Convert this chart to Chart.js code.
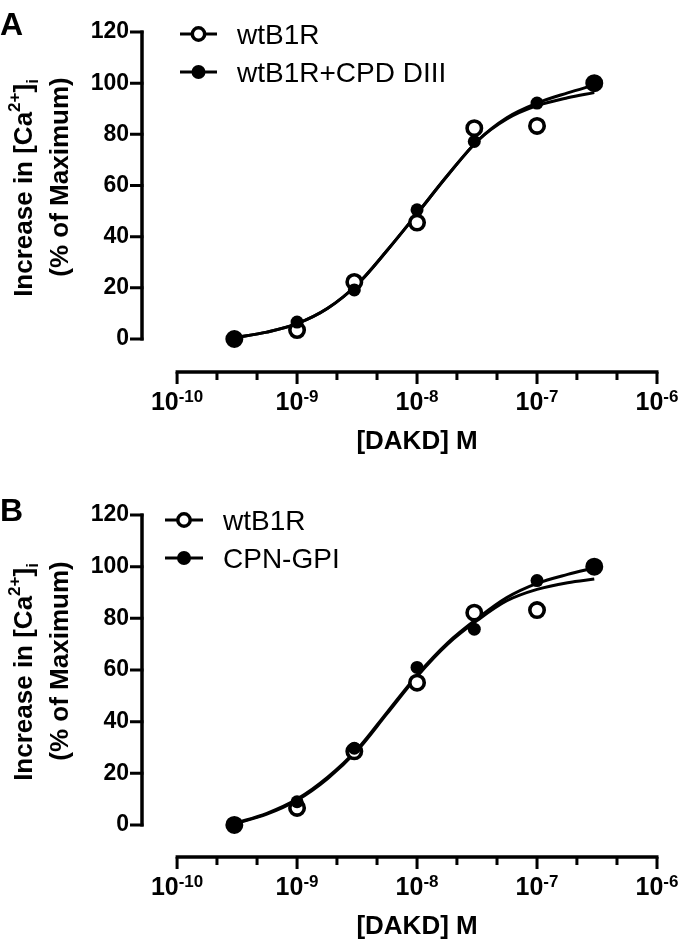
<!DOCTYPE html>
<html>
<head>
<meta charset="utf-8">
<script src="https://cdn.jsdelivr.net/npm/chart.js@4.4.1/dist/chart.umd.min.js"></script>
<style>
  body { margin: 0; background: #fff; width: 680px; height: 940px; overflow: hidden; }
  canvas { position: absolute; left: 0; }
  #chartA { top: 0; }
  #chartB { top: 486px; }
</style>
</head>
<body>
<canvas id="chartA" width="680" height="486"></canvas>
<canvas id="chartB" width="680" height="454"></canvas>
<script>
// measured points (% of max) at each DAKD concentration
const conc = [3e-10, 1e-9, 3e-9, 1e-8, 3e-8, 1e-7, 3e-7];
const wtA  = [0, 3.5, 22.3, 45.5, 82.4, 83.3, 100];
const cpdA = [0, 6.6, 19.2, 50.5, 77.2, 92.2, 100];
const wtB  = [0, 6.6, 28.5, 55.1, 82.2, 83.2, 100];
const gpiB = [0, 9.0, 29.7, 61.0, 75.8, 94.6, 100];

// fitted curves
const fitConc = [3e-10, 5.6e-10, 1e-9, 1.8e-9, 3.2e-9, 5.6e-9, 1e-8, 1.8e-8, 3.2e-8, 5.6e-8, 1e-7, 1.8e-7, 3e-7];
const wtFitA  = [0.5, 2.7, 6, 12, 21.5, 34.5, 49, 64, 77.5, 86, 91.2, 94.3, 96.3];
const cpdFitA = [0.5, 2.7, 6, 12, 21.5, 34.5, 49, 64, 77.5, 86.5, 92.2, 96.2, 99.3];
const wtFitB  = [0.4, 4.2, 9.6, 18, 29, 43, 57.5, 70, 79.3, 86.8, 91.2, 93.8, 95.2];
const gpiFitB = [0.6, 4.5, 10, 18.5, 29.5, 43.5, 58, 70.5, 80, 88, 93.5, 97, 99.5];

const namesA = ['wtB1R', 'wtB1R+CPD DIII'];
const namesB = ['wtB1R', 'CPN-GPI'];

const yTicks = [0, 20, 40, 60, 80, 100, 120];
const xMajor = [1e-10, 1e-9, 1e-8, 1e-7, 1e-6];
const xMajorExp = ['-10', '-9', '-8', '-7', '-6'];
const xMinor = [2.15e-10, 4.64e-10, 2.15e-9, 4.64e-9, 2.15e-8, 4.64e-8, 2.15e-7, 4.64e-7];

const FONT = '"Liberation Sans", Arial, sans-serif';

function pairs(xs, ys) {
    return xs.map((x, i) => ({ x: x, y: ys[i] }));
}

// axes, tick labels, titles and legend drawn Prism-style
function makeDecor(p) {
    return {
        id: 'decor' + p.letter,
        beforeDatasetsDraw(chart) {
            const ctx = chart.ctx;
            const xs = chart.scales.x, ys = chart.scales.y;
            const left = chart.chartArea.left;
            const axisY = chart.chartArea.bottom;
            ctx.save();
            ctx.strokeStyle = '#000';
            ctx.lineWidth = 3.5;

            // y axis
            const y0 = ys.getPixelForValue(yTicks[0]);
            const yTop = ys.getPixelForValue(yTicks[yTicks.length - 1]);
            ctx.beginPath();
            ctx.moveTo(left, y0 + 1.5);
            ctx.lineTo(left, yTop - 1.5);
            ctx.stroke();
            ctx.lineWidth = 3;
            ctx.beginPath();
            yTicks.forEach(v => {
                const py = ys.getPixelForValue(v);
                ctx.moveTo(left - 12, py);
                ctx.lineTo(left + 1.5, py);
            });
            ctx.stroke();

            // x axis
            const xl = xs.getPixelForValue(xMajor[0]);
            const xr = xs.getPixelForValue(xMajor[xMajor.length - 1]);
            ctx.lineWidth = 3.5;
            ctx.beginPath();
            ctx.moveTo(xl - 1.5, axisY);
            ctx.lineTo(xr + 1.5, axisY);
            ctx.stroke();
            ctx.lineWidth = 3;
            ctx.beginPath();
            xMajor.forEach(v => {
                const px = xs.getPixelForValue(v);
                ctx.moveTo(px, axisY);
                ctx.lineTo(px, axisY + 12);
            });
            xMinor.forEach(v => {
                const px = xs.getPixelForValue(v);
                ctx.moveTo(px, axisY);
                ctx.lineTo(px, axisY + 8);
            });
            ctx.stroke();

            // x tick labels 10^n
            ctx.fillStyle = '#000';
            ctx.textBaseline = 'alphabetic';
            ctx.textAlign = 'left';
            xMajor.forEach((v, i) => {
                const px = xs.getPixelForValue(v);
                ctx.font = 'bold 25px ' + FONT;
                const wBase = ctx.measureText('10').width;
                ctx.font = 'bold 17px ' + FONT;
                const wExp = ctx.measureText(xMajorExp[i]).width;
                const start = px - (wBase + wExp) / 2;
                ctx.font = 'bold 25px ' + FONT;
                ctx.fillText('10', start, axisY + 38);
                ctx.font = 'bold 17px ' + FONT;
                ctx.fillText(xMajorExp[i], start + wBase, axisY + 30);
            });

            // x title
            ctx.font = 'bold 26px ' + FONT;
            ctx.textAlign = 'center';
            ctx.fillText('[DAKD] M', (xl + xr) / 2, axisY + 77);

            // y title, two rotated lines
            const big = 'bold 26px ' + FONT, small = 'bold 17px ' + FONT;
            const line1 = [['Increase in [Ca', big, 0], ['2+', small, -12], [']', big, 0], ['i', small, 6]];
            ctx.textAlign = 'left';
            ctx.save();
            ctx.translate(p.title1[0], p.title1[1]);
            ctx.rotate(-Math.PI / 2);
            let w = 0;
            line1.forEach(part => { ctx.font = part[1]; w += ctx.measureText(part[0]).width; });
            let cx = -w / 2;
            line1.forEach(part => {
                ctx.font = part[1];
                ctx.fillText(part[0], cx, part[2]);
                cx += ctx.measureText(part[0]).width;
            });
            ctx.restore();
            ctx.save();
            ctx.translate(p.title2[0], p.title2[1]);
            ctx.rotate(-Math.PI / 2);
            ctx.font = big;
            ctx.textAlign = 'center';
            ctx.fillText('(% of Maximum)', 0, 0);
            ctx.restore();

            // panel letter
            ctx.font = 'bold 32px ' + FONT;
            ctx.textAlign = 'left';
            ctx.fillText(p.letter, 0, 35);
            ctx.restore();
        },
        afterDraw(chart) {
            const ctx = chart.ctx;
            ctx.save();
            const rows = [34, 72];
            const mx = (p.legendLine[0] + p.legendLine[1]) / 2;
            rows.forEach((ry, i) => {
                ctx.strokeStyle = '#000';
                ctx.lineWidth = 3;
                ctx.beginPath();
                ctx.moveTo(p.legendLine[0], ry);
                ctx.lineTo(p.legendLine[1], ry);
                ctx.stroke();
                ctx.beginPath();
                if (i === 0) {
                    ctx.arc(mx, ry, 6.2, 0, Math.PI * 2);
                    ctx.fillStyle = '#fff';
                    ctx.fill();
                    ctx.lineWidth = 3.5;
                    ctx.stroke();
                } else {
                    ctx.arc(mx, ry, 7, 0, Math.PI * 2);
                    ctx.fillStyle = '#000';
                    ctx.fill();
                }
                ctx.fillStyle = '#000';
                ctx.font = '28px ' + FONT;
                ctx.textAlign = 'left';
                ctx.textBaseline = 'alphabetic';
                ctx.fillText(p.names[i], p.legendText, ry + 10);
            });
            ctx.restore();
        }
    };
}

function buildChart(id, p) {
    return new Chart(document.getElementById(id), {
        type: 'scatter',
        data: {
            datasets: [
                { label: p.names[1], data: pairs(conc, p.filled), order: 0, showLine: false,
                  pointRadius: 6.5, pointBackgroundColor: '#000', pointBorderWidth: 0 },
                { label: p.names[0], data: pairs(conc, p.open), order: 1, showLine: false,
                  pointRadius: 7.2, pointBackgroundColor: '#fff', pointBorderColor: '#000', pointBorderWidth: 3.6 },
                { data: pairs(fitConc, p.fitFilled), order: 2, showLine: true, borderColor: '#000',
                  borderWidth: 3, pointRadius: 0, cubicInterpolationMode: 'monotone' },
                { data: pairs(fitConc, p.fitOpen), order: 3, showLine: true, borderColor: '#000',
                  borderWidth: 3, pointRadius: 0, cubicInterpolationMode: 'monotone' }
            ]
        },
        options: {
            responsive: false,
            animation: false,
            events: [],
            clip: false,
            layout: { padding: { top: p.top, right: 23, left: 0, bottom: 0 } },
            plugins: { legend: { display: false }, tooltip: { enabled: false } },
            scales: {
                x: {
                    type: 'logarithmic', min: 5.1e-11, max: 1e-6,
                    grid: { display: false, drawTicks: false },
                    border: { display: false },
                    ticks: { display: false },
                    afterFit(s) { s.height = p.xAxisHeight; }
                },
                y: {
                    type: 'linear', min: p.yMin, max: 120,
                    afterBuildTicks(s) { s.ticks = yTicks.map(v => ({ value: v })); },
                    grid: { display: false, drawTicks: false },
                    border: { display: false },
                    ticks: { color: '#000', padding: 13, font: { family: FONT, size: 23, weight: 'bold' } },
                    afterFit(s) { s.width = 142; }
                }
            }
        },
        plugins: [makeDecor(p)]
    });
}

buildChart('chartA', {
    letter: 'A', names: namesA, open: wtA, filled: cpdA, fitOpen: wtFitA, fitFilled: cpdFitA,
    top: 32, yMin: -12.9, xAxisHeight: 114,
    legendLine: [180, 217], legendText: 237,
    title1: [32, 188], title2: [68, 177]
});
buildChart('chartB', {
    letter: 'B', names: namesB, open: wtB, filled: gpiB, fitOpen: wtFitB, fitFilled: gpiFitB,
    top: 29, yMin: -12.4, xAxisHeight: 83,
    legendLine: [165, 203], legendText: 223,
    title1: [32, 186], title2: [68, 175]
});
</script>
</body>
</html>
